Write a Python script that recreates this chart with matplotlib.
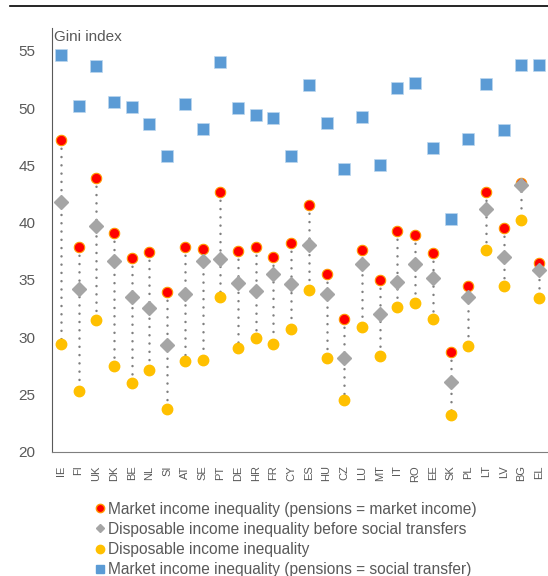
#!/bin/python3

# library imports
import matplotlib
matplotlib.use('Agg')
import matplotlib.pyplot as plt
from matplotlib.lines import Line2D

plt.rcParams['font.family'] = ['Liberation Sans', 'DejaVu Sans']

# countries on the x axis
countries = ['IE', 'FI', 'UK', 'DK', 'BE', 'NL', 'SI', 'AT', 'SE', 'PT', 'DE', 'HR', 'FR', 'CY',
             'ES', 'HU', 'CZ', 'LU', 'MT', 'IT', 'RO', 'EE', 'SK', 'PL', 'LT', 'LV', 'BG', 'EL']

# Gini index values
market_pens_market = [47.2, 37.9, 43.9, 39.1, 36.9, 37.4, 33.9, 37.9, 37.7, 42.7, 37.5, 37.9, 37.0, 38.2,
                      41.5, 35.5, 31.6, 37.6, 35.0, 39.3, 38.9, 37.3, 28.7, 34.5, 42.7, 39.5, 43.5, 36.5]
disp_before_transfers = [41.8, 34.2, 39.7, 36.6, 33.5, 32.5, 29.3, 33.8, 36.6, 36.8, 34.7, 34.0, 35.5, 34.6,
                         38.0, 33.8, 28.2, 36.4, 32.0, 34.8, 36.4, 35.2, 26.1, 33.5, 41.2, 37.0, 43.3, 35.9]
disp_income = [29.4, 25.3, 31.5, 27.5, 26.0, 27.1, 23.7, 27.9, 28.0, 33.5, 29.0, 29.9, 29.4, 30.7,
               34.1, 28.2, 24.5, 30.9, 28.3, 32.6, 33.0, 31.6, 23.2, 29.2, 37.6, 34.5, 40.2, 33.4]
market_pens_transfer = [54.6, 50.2, 53.7, 50.5, 50.1, 48.6, 45.8, 50.4, 48.2, 54.0, 50.0, 49.4, 49.1, 45.8,
                        52.0, 48.7, 44.7, 49.2, 45.0, 51.8, 52.2, 46.5, 40.3, 47.3, 52.1, 48.1, 53.8, 53.8]

labels = ['Market income inequality (pensions = market income)',
          'Disposable income inequality before social transfers',
          'Disposable income inequality',
          'Market income inequality (pensions = social transfer)']

# colours
red = '#ff0000'
gray = '#a5a5a5'
yellow = '#ffc000'
blue = '#5b9bd5'
text_gray = '#595959'

fig = plt.figure(figsize=(5.48, 5.76), dpi=100)
ax = fig.add_axes([52 / 548, 1 - 451.5 / 576, 1 - 52 / 548, (451.5 - 28) / 576])

x = list(range(len(countries)))

# dotted range lines from market income down to disposable income
for i in x:
    ax.plot([i, i], [market_pens_market[i], disp_income[i]], color='#7f7f7f', lw=1.8,
            linestyle=(0, (0.01, 3.3)), dash_capstyle='round', zorder=1)

ax.plot(x, market_pens_transfer, 's', color=blue, ms=8, mec='#bdd7ee', mew=0.5, zorder=3)
ax.plot(x, disp_income, 'o', color=yellow, ms=7.5, mec=yellow, zorder=3)
ax.plot(x, market_pens_market, 'o', color=red, ms=7.5, mec='#ff9900', mew=0.8, zorder=3)
ax.plot(x, disp_before_transfers, 'D', color=gray, ms=7, mec=gray, zorder=4)

ax.set_xlim(-0.5, len(countries) - 0.5)
ax.set_ylim(20, 57)
ax.set_yticks([20, 25, 30, 35, 40, 45, 50, 55])
ax.set_xticks(x)
ax.set_xticklabels(countries, rotation=90, fontsize=8, color=text_gray)
ax.tick_params(axis='x', length=0, pad=10)
ax.tick_params(axis='y', length=0, pad=12, labelsize=11, labelcolor=text_gray)

for side in ['top', 'right']:
    ax.spines[side].set_visible(False)
ax.spines['left'].set_color(text_gray)
ax.spines['bottom'].set_color('#7f7f7f')

ax.text(0.005, 0.995, 'Gini index', transform=ax.transAxes, fontsize=11, color=text_gray,
        ha='left', va='top')

# legend below the chart
handles = [Line2D([], [], marker='o', ls='', color=red, mec='#ff9900', ms=6),
           Line2D([], [], marker='D', ls='', color=gray, ms=4.5),
           Line2D([], [], marker='o', ls='', color=yellow, ms=6),
           Line2D([], [], marker='s', ls='', color=blue, ms=6)]
fig.legend(handles, labels, loc='upper left', bbox_to_anchor=(88 / 548, 1 - 494 / 576),
           frameon=False, fontsize=11.2, handlelength=0.55, handletextpad=0.25,
           labelspacing=0.33, borderpad=0, labelcolor=text_gray)

# black rule at the top of the page
fig.add_artist(Line2D([10 / 548, 1], [1 - 6 / 576, 1 - 6 / 576], color='black', lw=1.2))

plt.savefig('out.png', dpi=100)
